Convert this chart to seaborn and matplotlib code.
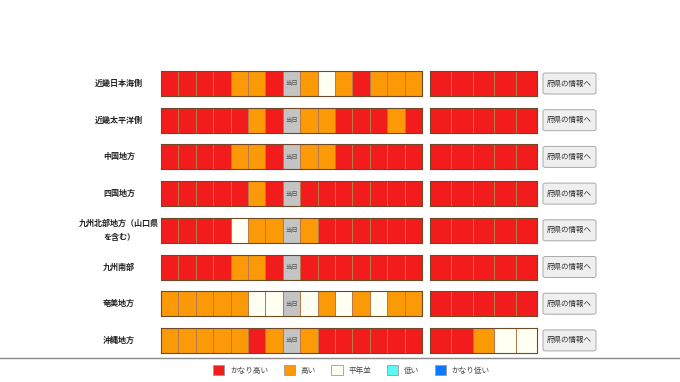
import numpy as np
import seaborn as sns
import matplotlib.pyplot as plt
from matplotlib.colors import ListedColormap
from matplotlib.patches import Patch, FancyBboxPatch
from matplotlib.lines import Line2D

plt.rcParams['font.family'] = ['Noto Sans CJK JP', 'DejaVu Sans']

regions = ['近畿日本海側', '近畿太平洋側', '中国地方', '四国地方',
           '九州北部地方（山口県\nを含む）', '九州南部', '奄美地方', '沖縄地方']

# 0 = 当日, 1 = かなり低い, 2 = 低い, 3 = 平年並, 4 = 高い, 5 = かなり高い
levels = ['当日', 'かなり低い', '低い', '平年並', '高い', 'かなり高い']
level_colors = ['#c4c4c4', '#0a78ff', '#5ef5f5', '#fffff2', '#fb9a06', '#f31c1c']

daily = [
    [5, 5, 5, 5, 4, 4, 5, 0, 4, 3, 4, 5, 4, 4, 4],
    [5, 5, 5, 5, 5, 4, 5, 0, 4, 4, 5, 5, 5, 4, 5],
    [5, 5, 5, 5, 4, 4, 5, 0, 4, 4, 5, 5, 5, 5, 5],
    [5, 5, 5, 5, 5, 4, 5, 0, 5, 5, 5, 5, 5, 5, 5],
    [5, 5, 5, 5, 3, 4, 4, 0, 4, 5, 5, 5, 5, 5, 5],
    [5, 5, 5, 5, 4, 4, 5, 0, 5, 5, 5, 5, 5, 5, 5],
    [4, 4, 4, 4, 4, 3, 3, 0, 3, 4, 3, 4, 3, 4, 4],
    [4, 4, 4, 4, 4, 5, 4, 0, 4, 5, 5, 5, 5, 5, 5],
]

weekly = [
    [5, 5, 5, 5, 5],
    [5, 5, 5, 5, 5],
    [5, 5, 5, 5, 5],
    [5, 5, 5, 5, 5],
    [5, 5, 5, 5, 5],
    [5, 5, 5, 5, 5],
    [5, 5, 5, 5, 5],
    [5, 5, 4, 3, 3],
]

legend_levels = ['かなり高い', '高い', '平年並', '低い', 'かなり低い']

W, H = 680, 382
cmap = ListedColormap(level_colors)


def px_axes(fig, x, y, w, h):
    # pixel box (top-left origin) -> figure axes
    return fig.add_axes([x / W, 1 - (y + h) / H, w / W, h / H])


def draw_row(ax, values):
    vals = np.array([values])
    annot = np.where(vals == 0, '当日', '')
    sns.heatmap(vals, ax=ax, cmap=cmap, vmin=-0.5, vmax=len(levels) - 0.5,
                cbar=False, linewidths=0.5, linecolor='#b8784a',
                annot=annot, fmt='', annot_kws={'size': 4.6, 'color': '#555555'},
                xticklabels=False, yticklabels=False)
    for s in ax.spines.values():
        s.set_visible(True)
        s.set_color('#6e4a2a')
        s.set_linewidth(0.8)


fig = plt.figure(figsize=(6.8, 3.82), dpi=100)

row_top, row_step, row_h = 71, 36.7, 25
for i, region in enumerate(regions):
    top = row_top + row_step * i
    draw_row(px_axes(fig, 161, top, 261, row_h), daily[i])
    draw_row(px_axes(fig, 430, top, 107, row_h), weekly[i])

    cy = 1 - (top + row_h / 2) / H
    fig.text(119 / W, cy, region, ha='center', va='center', fontsize=5.8,
             fontweight='bold', color='#222222', linespacing=1.7)

    btn = FancyBboxPatch((543 / W, 1 - (top + row_h - 2) / H), 53 / W, (row_h - 4) / H,
                         boxstyle='round,pad=0,rounding_size=0.004',
                         transform=fig.transFigure, fc='#efefef', ec='#a9a9a9', lw=0.7)
    fig.patches.append(btn)
    fig.text(569.5 / W, cy, '府県の情報へ', ha='center', va='center',
             fontsize=5.4, color='#2a2a2a')

fig.add_artist(Line2D([0, 1], [1 - 357.5 / H, 1 - 357.5 / H], transform=fig.transFigure,
                      color='#8a8a8a', lw=1.0))

handles = [Patch(fc=level_colors[levels.index(name)], ec='#9a9a9a', lw=0.6)
           for name in legend_levels]
fig.legend(handles, legend_levels, loc='center', bbox_to_anchor=(351.5 / W, 1 - 370 / H),
           ncol=5, frameon=False, fontsize=5.5, handlelength=1.45, handleheight=1.45,
           handletextpad=0.8, columnspacing=2.0, labelcolor='#444444')

fig.savefig('out.png', dpi=100, facecolor='white')
